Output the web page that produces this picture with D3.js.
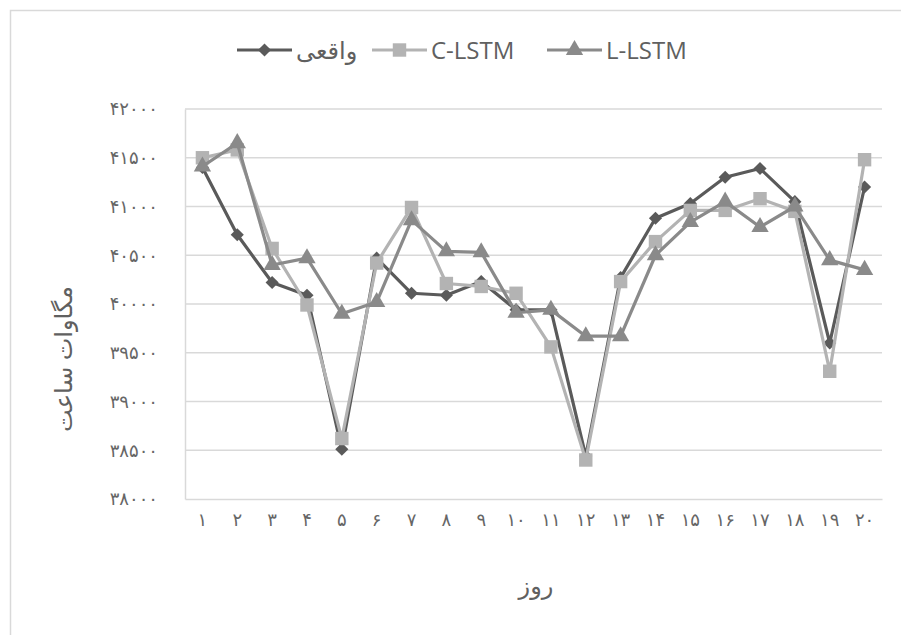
<!DOCTYPE html>
<html>
<head>
<meta charset="utf-8">
<script src="https://cdn.jsdelivr.net/npm/d3@7"></script>
<style>
  body { margin: 0; background: #fff; }
  text { font-family: "Open Sans", "DejaVu Sans", sans-serif; fill: #606060; }
</style>
</head>
<body>
<div id="chart"></div>
<script>
// data
const days = ["۱","۲","۳","۴","۵","۶","۷","۸","۹","۱۰","۱۱","۱۲","۱۳","۱۴","۱۵","۱۶","۱۷","۱۸","۱۹","۲۰"];
const actual = [41400, 40710, 40220, 40090, 38510, 40470, 40110, 40090, 40230, 39940, 39940, 38440, 40270, 40880, 41030, 41300, 41390, 41050, 39600, 41200];
const cLstm  = [41500, 41580, 40570, 39990, 38620, 40420, 40990, 40210, 40180, 40110, 39560, 38400, 40230, 40640, 40960, 40960, 41080, 40950, 39310, 41480];
const lLstm  = [41410, 41650, 40400, 40470, 39900, 40020, 40860, 40540, 40530, 39910, 39940, 39670, 39670, 40500, 40840, 41050, 40790, 41000, 40450, 40350];
const yTicks = [38000, 38500, 39000, 39500, 40000, 40500, 41000, 41500, 42000];
const yTickLabels = ["۳۸۰۰۰","۳۸۵۰۰","۳۹۰۰۰","۳۹۵۰۰","۴۰۰۰۰","۴۰۵۰۰","۴۱۰۰۰","۴۱۵۰۰","۴۲۰۰۰"];

const width = 901, height = 635;
const plotLeft = 185, plotRight = 882, plotTop = 109, plotBottom = 499;

const series = [
    { name: "واقعی", values: actual, color: "#5a5a5a", shape: "diamond" },
    { name: "C-LSTM", values: cLstm, color: "#b3b3b3", shape: "square" },
    { name: "L-LSTM", values: lLstm, color: "#8a8a8a", shape: "triangle" }
];

const svg = d3.select("#chart").append("svg")
    .attr("width", width)
    .attr("height", height);

// chart area border
svg.append("rect")
    .attr("x", 10.5).attr("y", 10.5)
    .attr("width", 1000).attr("height", 1000)
    .style("fill", "none")
    .style("stroke", "#d9d9d9")
    .style("stroke-width", 1.5);

const x = d3.scaleBand().domain(days).range([plotLeft, plotRight]);
const y = d3.scaleLinear().domain([38000, 42000]).range([plotBottom, plotTop]);

// gridlines
svg.append("g")
    .selectAll("line")
    .data(yTicks.slice(1))
    .enter()
    .append("line")
    .attr("x1", plotLeft).attr("x2", plotRight)
    .attr("y1", d => y(d)).attr("y2", d => y(d))
    .style("stroke", "#d9d9d9")
    .style("stroke-width", 1.3);

// axes
const yAxis = svg.append("g")
    .attr("transform", `translate(${plotLeft},0)`)
    .call(d3.axisLeft(y).tickValues(yTicks).tickSize(0).tickPadding(27)
        .tickFormat((d, i) => yTickLabels[i]));
yAxis.select(".domain").style("stroke", "#d9d9d9").style("stroke-width", 1.5);
yAxis.selectAll("text").style("font-size", "18px").style("fill", "#666");

const xAxis = svg.append("g")
    .attr("transform", `translate(0,${plotBottom})`)
    .call(d3.axisBottom(x).tickSize(0).tickPadding(14));
xAxis.select(".domain").style("stroke", "#d9d9d9").style("stroke-width", 1.5);
xAxis.selectAll("text").style("font-size", "18px").style("fill", "#666");

// marker shapes
const symbols = {
    diamond: d3.symbol().type(d3.symbolDiamond2).size(110),
    square: d3.symbol().type(d3.symbolSquare).size(180),
    triangle: d3.symbol().type(d3.symbolTriangle).size(130)
};

const line = d3.line()
    .x((d, i) => x(days[i]) + x.bandwidth() / 2)
    .y(d => y(d));

series.forEach(s => {
    const g = svg.append("g");
    g.append("path")
        .attr("d", line(s.values))
        .style("fill", "none")
        .style("stroke", s.color)
        .style("stroke-width", 3.2)
        .style("stroke-linejoin", "round");
    g.selectAll("path.m")
        .data(s.values)
        .enter()
        .append("path")
        .attr("class", "m")
        .attr("d", symbols[s.shape])
        .attr("transform", (d, i) => `translate(${x(days[i]) + x.bandwidth() / 2},${y(d)})`)
        .style("fill", s.color);
});

// legend
const legendX = [237, 372, 547];
series.forEach((s, i) => {
    const g = svg.append("g").attr("transform", `translate(${legendX[i]},50)`);
    g.append("line")
        .attr("x1", 0).attr("x2", 55)
        .style("stroke", s.color)
        .style("stroke-width", 3.2);
    g.append("path")
        .attr("d", symbols[s.shape])
        .attr("transform", "translate(27.5,0)")
        .style("fill", s.color);
    g.append("text")
        .attr("x", 59)
        .attr("y", 9)
        .style("font-size", "24px")
        .text(s.name);
});

// axis titles
svg.append("text")
    .attr("transform", "translate(72,359) rotate(-90)")
    .attr("text-anchor", "middle")
    .style("font-size", "24px")
    .text("مگاوات ساعت");

svg.append("text")
    .attr("x", 536)
    .attr("y", 594)
    .attr("text-anchor", "middle")
    .style("font-size", "24px")
    .text("روز");
</script>
</body>
</html>
